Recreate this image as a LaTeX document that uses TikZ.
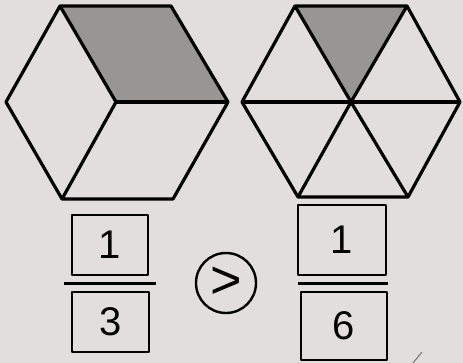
\documentclass[tikz,border=0pt]{standalone}
\usepackage{fontspec}
\setmainfont{Liberation Sans}
\usetikzlibrary{calc}
\definecolor{paper}{RGB}{226,222,221}
\definecolor{hexgray}{RGB}{152,150,149}
\begin{document}
\begin{tikzpicture}[x=1pt, y=-1pt, line width=3.2pt, line join=round,
    digitbox/.style={draw, line width=2.4pt, inner sep=0pt,
        font=\fontsize{40}{40}\selectfont},
    fracbar/.style={line width=2.4pt}]
    \useasboundingbox (0,0) rectangle (463,363);
    \fill[paper] (0,0) rectangle (463,363);

    % Left hexagon, cut into three rhombi
    \coordinate (a1) at (60,6);   \coordinate (a2) at (171,6);
    \coordinate (a3) at (228,102); \coordinate (a4) at (173,199);
    \coordinate (a5) at (62,199); \coordinate (a6) at (6,102);
    \coordinate (ac) at (116,102);
    \fill[hexgray] (a1) -- (a2) -- (a3) -- (ac) -- cycle;
    \draw (a1) -- (a2) -- (a3) -- (a4) -- (a5) -- (a6) -- cycle;
    \foreach \v in {a1,a3,a5} {
        \draw (ac) -- (\v);
    }

    % Right hexagon, cut into six triangles
    \coordinate (b1) at (295,6);  \coordinate (b2) at (407,6);
    \coordinate (b3) at (460,102); \coordinate (b4) at (408,197);
    \coordinate (b5) at (298,197); \coordinate (b6) at (242,102);
    \coordinate (bc) at (351,102);
    \fill[hexgray] (b1) -- (b2) -- (bc) -- cycle;
    \draw (b1) -- (b2) -- (b3) -- (b4) -- (b5) -- (b6) -- cycle;
    \foreach \v in {b1,b2,b3,b4,b5,b6} {
        \draw (bc) -- (\v);
    }

    % Fractions
    \node[digitbox, minimum width=76pt, minimum height=60pt] (lnum) at (110,245) {1};
    \node[digitbox, minimum width=77pt, minimum height=60pt] (lden) at (110.5,322) {3};
    \node[digitbox, minimum width=88pt, minimum height=70pt] (rnum) at (342,240) {1};
    \node[digitbox, minimum width=86pt, minimum height=68pt] (rden) at (344,326) {6};
    \draw[fracbar] ([xshift=-46pt]$(lnum.south)!.5!(lden.north)$) -- ++(92,0);
    \draw[fracbar] ([xshift=-45pt]$(rnum.south)!.5!(rden.north)$) -- ++(90,0);

    % Comparison sign
    \node[draw, circle, line width=2.4pt, minimum size=60pt, inner sep=0pt,
        font=\fontsize{54}{54}\selectfont] (cmp) at (226,283) {>};

    % Pen mark
    \draw[line width=1pt, black!55] (413,363) -- (422,352);
\end{tikzpicture}
\end{document}
